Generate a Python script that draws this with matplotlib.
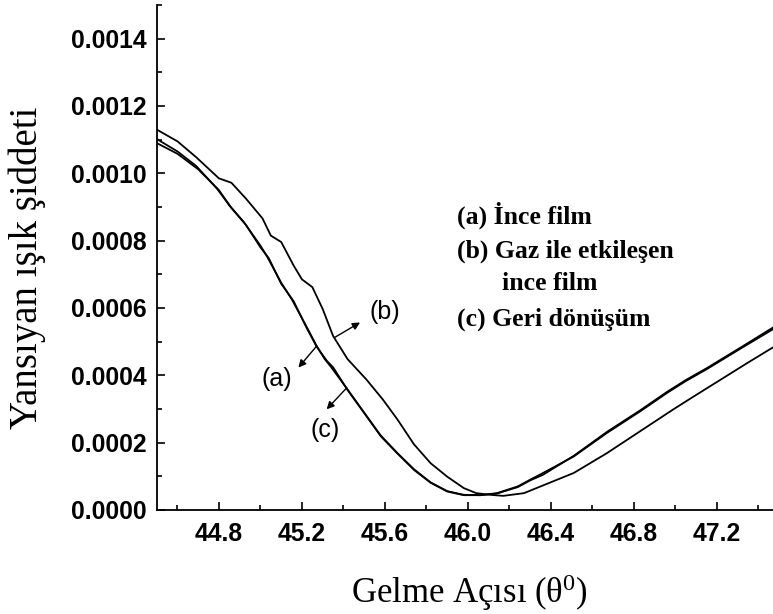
import matplotlib
matplotlib.use("Agg")
import matplotlib.pyplot as plt
from matplotlib.ticker import MultipleLocator, FormatStrFormatter

# --- veri ---
theta_a = [44.50, 44.60, 44.69, 44.79, 44.85, 44.92, 45.00, 45.03, 45.10, 45.15,
           45.22, 45.27, 45.31, 45.34, 45.42, 45.50, 45.58, 45.66, 45.74, 45.82,
           45.90, 45.98, 46.06, 46.14, 46.24, 46.30, 46.35, 46.51, 46.67, 46.83,
           46.96, 47.05, 47.15, 47.31, 47.47]
refl_a = [0.001102, 0.001065, 0.001022, 0.000955, 0.000905, 0.000855, 0.000785, 0.000755,
          0.000675, 0.000627, 0.000547, 0.000488, 0.000448, 0.000425, 0.000358, 0.000289,
          0.000221, 0.000169, 0.000121, 0.000082, 0.000056, 0.000045, 0.000044, 0.000050,
          0.000070, 0.000090, 0.000106, 0.000159, 0.000229, 0.000293, 0.000348, 0.000383,
          0.000418, 0.000478, 0.000537]

theta_b = [44.50, 44.60, 44.69, 44.80, 44.86, 44.93, 45.01, 45.05, 45.10, 45.16,
           45.20, 45.25, 45.30, 45.35, 45.42, 45.51, 45.59, 45.66, 45.74, 45.82,
           45.90, 45.98, 46.04, 46.11, 46.17, 46.27, 46.35, 46.51, 46.67, 46.83,
           46.99, 47.09, 47.22, 47.35, 47.47]
refl_b = [0.001130, 0.001095, 0.001048, 0.000985, 0.000972, 0.000925, 0.000866, 0.000815,
          0.000796, 0.000726, 0.000685, 0.000662, 0.000597, 0.000517, 0.000448, 0.000388,
          0.000328, 0.000269, 0.000195, 0.000139, 0.000099, 0.000065, 0.000050, 0.000045,
          0.000042, 0.000050, 0.000070, 0.000110, 0.000169, 0.000234, 0.000299, 0.000338,
          0.000388, 0.000438, 0.000483]

theta_c = [44.50, 44.60, 44.70, 44.80, 44.86, 44.93, 45.00, 45.04, 45.10, 45.16,
           45.22, 45.27, 45.32, 45.35, 45.42, 45.50, 45.58, 45.66, 45.74, 45.82,
           45.90, 45.98, 46.06, 46.14, 46.24, 46.30, 46.36, 46.51, 46.67, 46.83,
           46.96, 47.05, 47.15, 47.31, 47.47]
refl_c = [0.001090, 0.001058, 0.001012, 0.000950, 0.000897, 0.000847, 0.000780, 0.000748,
          0.000672, 0.000620, 0.000544, 0.000486, 0.000443, 0.000424, 0.000356, 0.000288,
          0.000219, 0.000168, 0.000119, 0.000081, 0.000055, 0.000044, 0.000044, 0.000049,
          0.000068, 0.000088, 0.000104, 0.000161, 0.000232, 0.000296, 0.000351, 0.000386,
          0.000421, 0.000481, 0.000542]

legend_lines = ["(a) İnce film", "(b) Gaz ile etkileşen", "ince film", "(c) Geri dönüşüm"]

plt.rcParams["mathtext.fontset"] = "custom"
plt.rcParams["mathtext.rm"] = "Liberation Serif"
plt.rcParams["mathtext.it"] = "Liberation Serif"

fig = plt.figure(figsize=(7.73, 6.14), dpi=100)
ax = fig.add_axes([0.2027, 0.1694, 0.7973, 0.8225])

for xs, ys in ((theta_a, refl_a), (theta_b, refl_b), (theta_c, refl_c)):
    ax.plot(xs, ys, color="black", lw=1.3)

ax.set_xlim(44.5, 47.47)
ax.set_ylim(0, 0.0015)

ax.spines["top"].set_visible(False)
ax.spines["right"].set_visible(False)
for s in ("left", "bottom"):
    ax.spines[s].set_linewidth(1.3)

ax.xaxis.set_major_locator(MultipleLocator(0.4))
ax.xaxis.set_minor_locator(MultipleLocator(0.2))
ax.yaxis.set_major_locator(MultipleLocator(0.0002))
ax.yaxis.set_minor_locator(MultipleLocator(0.0001))
ax.xaxis.set_major_formatter(FormatStrFormatter("%.1f"))
ax.yaxis.set_major_formatter(FormatStrFormatter("%.4f"))

ax.tick_params(which="both", direction="in", width=1.2, top=False, right=False)
ax.tick_params(which="major", length=6)
ax.tick_params(which="minor", length=3.5)
ax.tick_params(axis="x", pad=9)
ax.tick_params(axis="y", pad=7)
for lab in ax.get_xticklabels() + ax.get_yticklabels():
    lab.set_fontfamily("Liberation Sans")
    lab.set_fontweight("bold")
    lab.set_fontsize(17.8)

ax.set_xlabel("Gelme Açısı (θ$^{0}$)", fontfamily="Liberation Serif", fontsize=25)
ax.set_ylabel("Yansıyan ışık şiddeti", fontfamily="Liberation Serif", fontsize=28)
ax.xaxis.set_label_coords(0.508, -0.123)
ax.yaxis.set_label_coords(-0.179, 0.479)

# etiketler ve oklar
arrow = dict(arrowstyle="-|>", color="black", lw=1.0, mutation_scale=11, shrinkA=0, shrinkB=0)
ax.annotate("", xy=(45.183, 0.000423), xytext=(45.271, 0.000487), arrowprops=arrow)
ax.annotate("", xy=(45.48, 0.000557), xytext=(45.359, 0.000513), arrowprops=arrow)
ax.annotate("", xy=(45.319, 0.000299), xytext=(45.416, 0.000363), arrowprops=arrow)
ax.text(45.078, 0.000388, "(a)", fontfamily="Liberation Sans", fontsize=18, ha="center", va="center")
ax.text(45.60, 0.000587, "(b)", fontfamily="Liberation Sans", fontsize=18, ha="center", va="center")
ax.text(45.311, 0.000239, "(c)", fontfamily="Liberation Sans", fontsize=18, ha="center", va="center")

legend_pos = [(45.946, 0.000875), (45.946, 0.000767), (46.163, 0.000672), (45.946, 0.000567)]
for (lx, ly), txt in zip(legend_pos, legend_lines):
    ax.text(lx, ly, txt, fontfamily="Liberation Serif", fontweight="bold", fontsize=18.5,
            ha="left", va="center")

fig.savefig("out.png", dpi=100)
